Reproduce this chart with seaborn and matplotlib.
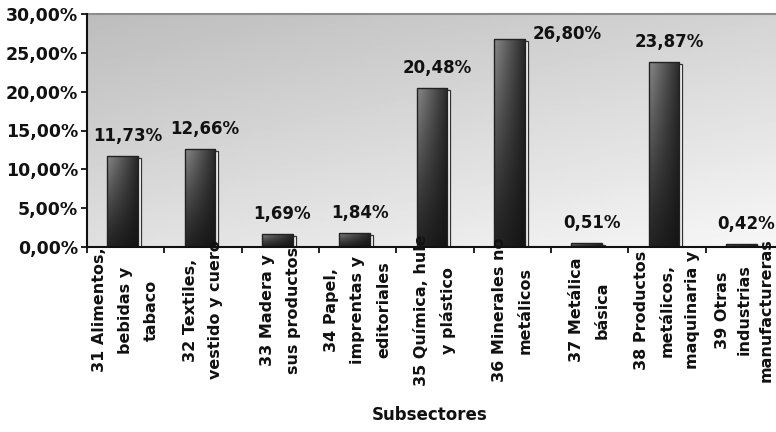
import numpy as np
import pandas as pd
import matplotlib
matplotlib.use("Agg")
import matplotlib.pyplot as plt
import matplotlib.transforms as mtransforms
from matplotlib.patches import Rectangle
import seaborn as sns

# Participación por subsector (%)
subsectores = [
    "31 Alimentos,\nbebidas y\ntabaco",
    "32 Textiles,\nvestido y cuero",
    "33 Madera y\nsus productos",
    "34 Papel,\nimprentas y\neditoriales",
    "35 Química, hule\ny plástico",
    "36 Minerales no\nmetálicos",
    "37 Metálica\nbásica",
    "38 Productos\nmetálicos,\nmaquinaria y",
    "39 Otras\nindustrias\nmanufactureras",
]
participacion = [11.73, 12.66, 1.69, 1.84, 20.48, 26.80, 0.51, 23.87, 0.42]
yticks = [0, 5, 10, 15, 20, 25, 30]

df = pd.DataFrame({"subsector": subsectores, "valor": participacion})

sns.set_theme(style="white")
plt.rcParams["font.family"] = ["DejaVu Sans"]
plt.rcParams["font.weight"] = "bold"

W, H = 776, 432
fig = plt.figure(figsize=(W / 100, H / 100), dpi=100)
ax = fig.add_axes([87 / W, (H - 247) / H, 696 / W, 233 / H])

# Fondo con degradado diagonal
gx, gy = np.meshgrid(np.linspace(0, 1, 200), np.linspace(1, 0, 200))
bg = 0.74 + 0.23 * (0.6 * (1 - gy) + 0.4 * gx)
ax.imshow(bg, cmap="gray", vmin=0, vmax=1, extent=[0, 1, 0, 1],
          transform=ax.transAxes, aspect="auto", zorder=0, interpolation="bilinear")

sns.barplot(data=df, x="subsector", y="valor", width=0.40, color="#1a1a1a",
            edgecolor="#222222", linewidth=1.0, ax=ax, zorder=2)

px_x = 9 / 696   # data units per pixel horizontally
px_y = 30 / 233  # data units per pixel vertically

# Degradado de las barras
bx, by = np.meshgrid(np.linspace(0, 1, 64), np.linspace(1, 0, 64))
grad = 0.08 + (1 - bx) * (0.06 + 0.32 * by ** 1.3) + 0.08 * by

for p in ax.patches:
    p.set_x(p.get_x() - 3 * px_x)
    x0, w, h = p.get_x(), p.get_width(), p.get_height()
    sh = Rectangle((x0 + 3 * px_x, 0), w, max(h - 2 * px_y, 0),
                   facecolor="white", edgecolor="#333333", linewidth=0.9, zorder=1.5)
    ax.add_patch(sh)
    im = ax.imshow(grad, cmap="gray", vmin=0, vmax=1, extent=[x0, x0 + w, 0, h],
                   aspect="auto", zorder=2.2, interpolation="bilinear")
    im.set_clip_path(p)
    p.set_facecolor("none")
    p.set_zorder(2.4)

# Etiquetas de valor
for i, v in enumerate(participacion):
    txt = f"{v:.2f}%".replace(".", ",")
    if v > 25:
        off = (55 * 0.72, 5 * 0.72)
    else:
        off = (2 * 0.72, 20 * 0.72)
    ax.annotate(txt, xy=(i, v), xytext=off, textcoords="offset points",
                ha="center", va="center", fontsize=12, fontweight="bold",
                color="#111111", zorder=5, annotation_clip=False)

ax.set_xlim(-0.5, 8.5)
ax.set_ylim(0, 30)
ax.set_yticks(yticks)
ax.set_yticklabels([f"{t:.2f}%".replace(".", ",") for t in yticks],
                   fontsize=12.5, fontweight="bold", color="#111111")
ax.set_xticks(np.arange(-0.5, 9, 1))
ax.set_xticklabels([])
ax.tick_params(axis="y", direction="out", length=4.3, width=1.3, pad=2.2,
               left=True, color="#111111")
ax.tick_params(axis="x", direction="out", length=4, width=1.3, bottom=True,
               color="#111111")
ax.set_xlabel("")
ax.set_ylabel("")

for s in ["left", "bottom"]:
    ax.spines[s].set_color("#111111")
    ax.spines[s].set_linewidth(1.5)
    ax.spines[s].set_zorder(6)
ax.spines["top"].set_color("#8c8c8c")
ax.spines["top"].set_linewidth(1.5)
ax.spines["right"].set_visible(False)

# Etiquetas de categoría giradas
trans = mtransforms.blended_transform_factory(ax.transData, ax.transAxes)
for i, lab in enumerate(subsectores):
    ls = 1.55 if i == len(subsectores) - 1 else 1.9
    ax.text(i, (247 - 310) / 233, lab, transform=trans, rotation=90,
            ha="center", va="center", multialignment="center",
            fontsize=11.5, fontweight="bold", linespacing=ls,
            color="#111111", zorder=7, clip_on=False)

fig.text(430 / W, 1 - 415 / H, "Subsectores", ha="center", va="center",
         fontsize=12, fontweight="bold", color="#111111")

fig.savefig("out.png", dpi=100)
